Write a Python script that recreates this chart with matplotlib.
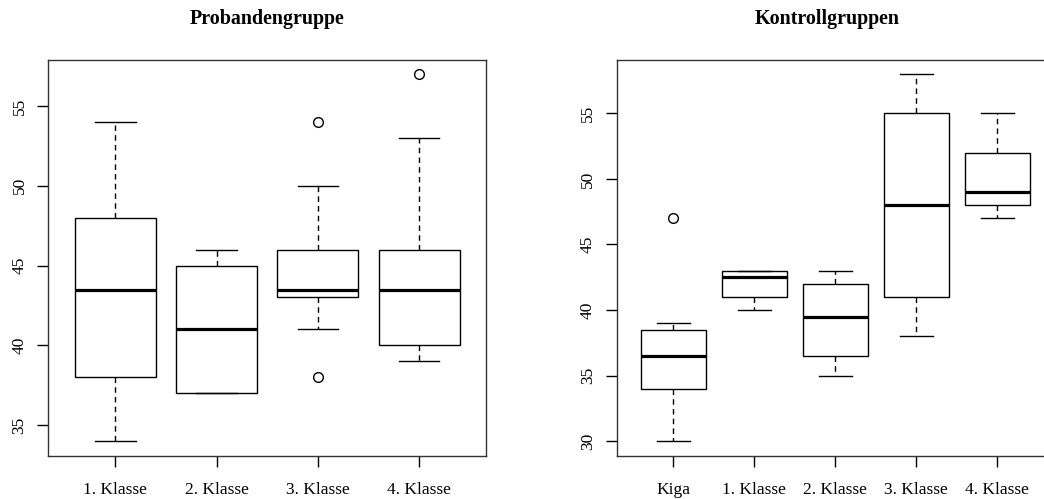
import matplotlib.pyplot as plt

plt.rcParams['font.family'] = ['Liberation Serif', 'DejaVu Serif']

# Probandengruppe
prob_labels = ["1. Klasse", "2. Klasse", "3. Klasse", "4. Klasse"]
prob_whislo = [34, 37, 41, 39]
prob_q1 = [38, 37, 43, 40]
prob_med = [43.5, 41, 43.5, 43.5]
prob_q3 = [48, 45, 46, 46]
prob_whishi = [54, 46, 50, 53]
prob_fliers = [[], [], [54, 38], [57]]
prob_yticks = [35, 40, 45, 50, 55]

# Kontrollgruppen
kon_labels = ["Kiga", "1. Klasse", "2. Klasse", "3. Klasse", "4. Klasse"]
kon_whislo = [30, 40, 35, 38, 47]
kon_q1 = [34, 41, 36.5, 41, 48]
kon_med = [36.5, 42.5, 39.5, 48, 49]
kon_q3 = [38.5, 43, 42, 55, 52]
kon_whishi = [39, 43, 43, 58, 55]
kon_fliers = [[47], [], [], [], []]
kon_yticks = [30, 35, 40, 45, 50, 55]


def draw_boxes(ax, labels, whislo, q1, med, q3, whishi, fliers, yticks):
    stats = []
    for i in range(len(labels)):
        stats.append(dict(label=labels[i], whislo=whislo[i], q1=q1[i], med=med[i],
                          q3=q3[i], whishi=whishi[i], fliers=fliers[i]))
    n = len(labels)
    ax.bxp(stats, positions=range(1, n + 1), widths=0.8, capwidths=0.4,
           patch_artist=True,
           boxprops=dict(facecolor='white', edgecolor='black', linewidth=1.0),
           medianprops=dict(color='black', linewidth=2.3, solid_capstyle='butt'),
           whiskerprops=dict(color='black', linewidth=1.0, linestyle=(0, (4, 3))),
           capprops=dict(color='black', linewidth=1.0),
           flierprops=dict(marker='o', markerfacecolor='none', markeredgecolor='black',
                           markersize=7, markeredgewidth=1.0))
    # R-Stil: 4 % Rand an beiden Achsen
    allv = whislo + whishi + [v for f in fliers for v in f]
    lo, hi = min(allv), max(allv)
    pad = 0.04 * (hi - lo)
    ax.set_ylim(lo - pad, hi + pad)
    ax.set_xlim(0.5 - 0.04 * n, n + 0.5 + 0.04 * n)
    ax.set_yticks(yticks)
    ax.set_yticklabels([str(t) for t in yticks], rotation=90, va='center')
    ax.set_xticks(range(1, n + 1))
    ax.set_xticklabels(labels)
    ax.tick_params(axis='both', length=8, width=1.0, labelsize=12.5, color='black')
    ax.tick_params(axis='y', pad=7)
    ax.tick_params(axis='x', pad=11)
    for s in ax.spines.values():
        s.set_linewidth(1.0)
        s.set_color('#333333')


fig = plt.figure(figsize=(10.44, 4.99), dpi=100)
ax1 = fig.add_axes([48.4 / 1044, 43.3 / 499, 437.6 / 1044, 396.2 / 499])
ax2 = fig.add_axes([616.7 / 1044, 43.3 / 499, 437.3 / 1044, 396.2 / 499])

draw_boxes(ax1, prob_labels, prob_whislo, prob_q1, prob_med, prob_q3,
           prob_whishi, prob_fliers, prob_yticks)
draw_boxes(ax2, kon_labels, kon_whislo, kon_q1, kon_med, kon_q3,
           kon_whishi, kon_fliers, kon_yticks)

fig.text(267 / 1044, 1 - 19 / 499, "Probandengruppe", ha='center', va='center',
         fontsize=14.4, fontweight='bold')
fig.text(827 / 1044, 1 - 19 / 499, "Kontrollgruppen", ha='center', va='center',
         fontsize=14.4, fontweight='bold')

fig.savefig("out.png", dpi=100)
